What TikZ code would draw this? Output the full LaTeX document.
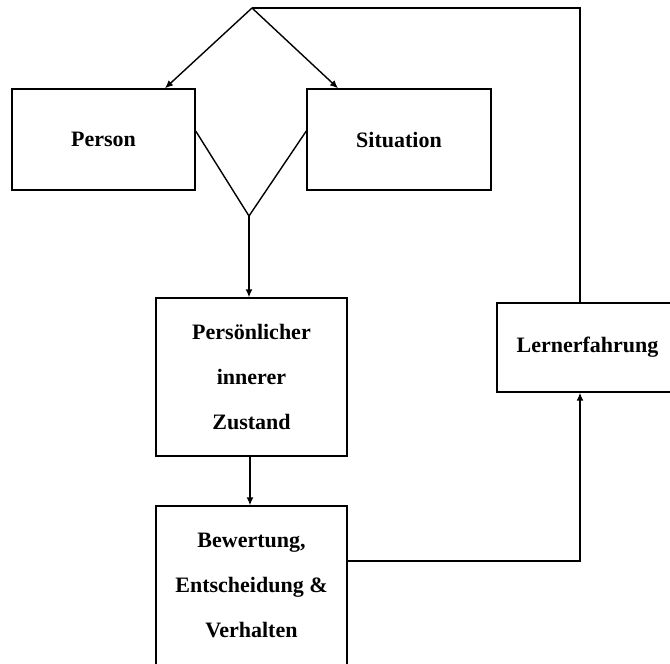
\documentclass[tikz,border=0pt]{standalone}
\usepackage{fontspec}
\setmainfont{Liberation Serif}
\usetikzlibrary{arrows.meta,positioning}

\begin{document}
\begin{tikzpicture}[x=1pt,y=-1pt,
	kasten/.style={draw, line width=1.4pt, align=center, inner sep=0pt,
		font=\bfseries\fontsize{22}{45}\selectfont},
	linie/.style={line width=1.4pt},
	pfeil/.style={linie, -{Latex[length=8pt,width=7pt]}}]
	\clip (0,0) rectangle (670,664);

	% Kaesten
	\node[kasten, minimum width=183, minimum height=101] (person) at (103.5,139.5) {Person};
	\node[kasten, minimum width=184, minimum height=101] (situation) at (399,139.5) {Situation};
	\node[kasten, minimum width=191, minimum height=158] (zustand) at (251.5,377) {Persönlicher\\innerer\\Zustand};
	\node[kasten, minimum width=191, minimum height=159] (bewertung) at (251.5,585.5) {Bewertung,\\Entscheidung \&\\Verhalten};
	\node[kasten, minimum width=181, minimum height=89] (lernen) at (587.5,347.5) {Lernerfahrung};

	\coordinate (spitze) at (252,8);
	\coordinate (vbot) at (249,216);
	\coordinate (ecke) at (580,561);

	% Verbindungen
	\draw[pfeil] (spitze) -- (person.north -| 165,0);
	\draw[pfeil] (spitze) -- (situation.north -| 338,0);
	\draw[linie] (person.east |- 0,131) -- (vbot) -- (situation.west |- 0,131);
	\draw[pfeil] (vbot) -- (zustand.north -| vbot);
	\draw[pfeil] (zustand.south -| 250,0) -- (bewertung.north -| 250,0);
	\draw[pfeil] (bewertung.east |- ecke) -| (lernen.south -| ecke);
	\draw[linie] (spitze) -| (lernen.north -| ecke);
\end{tikzpicture}
\end{document}
